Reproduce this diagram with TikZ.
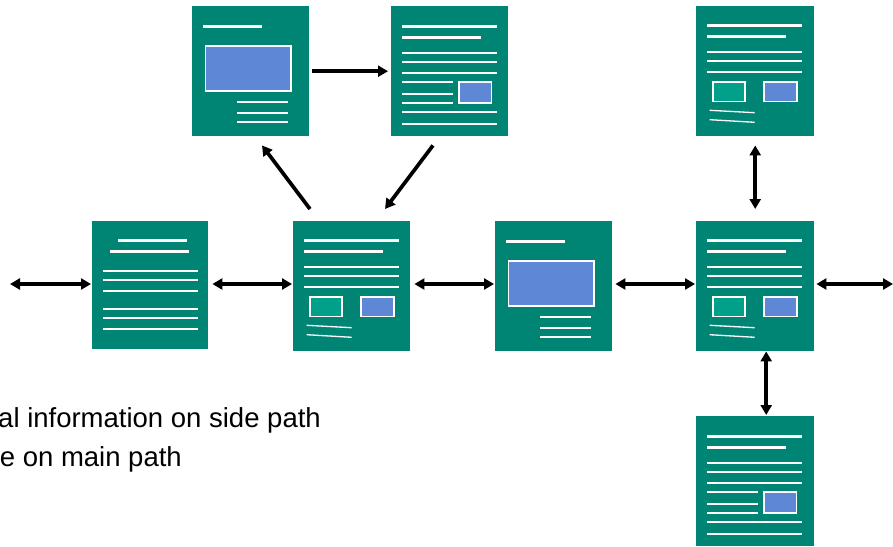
\documentclass[tikz,border=0pt]{standalone}
\usepackage{fontspec}
\setmainfont{Liberation Sans}
\usetikzlibrary{arrows.meta}
\definecolor{pagegreen}{RGB}{0,133,117}
\definecolor{boxteal}{RGB}{0,160,138}
\definecolor{picblue}{RGB}{94,135,214}

\begin{document}
\begin{tikzpicture}[x=1pt,y=-1pt]
            \tikzset{
            pg node/.style={rectangle,fill=pagegreen,anchor=north west,minimum width=117pt,minimum height=130pt,inner sep=0},
            pg head/.style={white,line width=3.3pt},
            pg line/.style={white,line width=2pt},
            pg slant/.style={white,line width=1.3pt},
            pg img/.style={fill=picblue,draw=white,line width=1.5pt},
            pg box/.style={fill=boxteal,draw=white,line width=1.5pt},
            pg edge/.style={line width=3.7pt,-{Triangle[length=10pt,width=11pt]}},
            pg dedge/.style={line width=3.7pt,{Triangle[length=10pt,width=11pt]}-{Triangle[length=10pt,width=11pt]}},
            pics/imgpage/.style={code={
                \draw[pg head] (11,20.5) -- (70,20.5);
                \draw[pg img] (13.5,40) rectangle (99,85);
                \foreach \y in {96,106.5,115.5} \draw[pg line] (45,\y) -- (96,\y);
            }},
            pics/sidepage/.style={code={
                \draw[pg head] (11,20.5) -- (106,20.5);
                \draw[pg head] (11,31.5) -- (90,31.5);
                \foreach \y in {46.5,55.5,66.5,106,117.5} \draw[pg line] (11,\y) -- (106,\y);
                \foreach \y in {76,87.5,96.5} \draw[pg line] (11,\y) -- (62,\y);
                \draw[pg img] (68,76) rectangle (100.5,97);
            }},
            pics/textpage/.style={code={
                \draw[pg head] (26,19.7) -- (95,19.7);
                \draw[pg head] (18,30.7) -- (97,30.7);
                \foreach \y in {49.7,58.7,69.7,87.7,96.7,107.7} \draw[pg line] (11,\y) -- (106,\y);
            }},
            pics/boxpage/.style={code={
                \draw[pg head] (11,19.7) -- (106,19.7);
                \draw[pg head] (11,30.7) -- (90,30.7);
                \foreach \y in {45.7,54.7,65.7} \draw[pg line] (11,\y) -- (106,\y);
                \draw[pg box] (17,76) rectangle (49,95.7);
                \draw[pg img] (68,76) rectangle (101,95.7);
                \draw[pg slant] (13.7,104.3) -- (58.7,106.7);
                \draw[pg slant] (13.7,113.7) -- (58.7,116.3);
            }}
            }
            \useasboundingbox (0,0) rectangle (893,546);

            \node[pg node] (1) at (192,6) {};
            \node[pg node] (2) at (391,6) {};
            \node[pg node,minimum width=118pt] (3) at (696,6) {};
            \node[pg node,minimum width=116pt,minimum height=128pt] (4) at (92,221) {};
            \node[pg node] (5) at (293,221) {};
            \node[pg node] (6) at (495,221) {};
            \node[pg node,minimum width=118pt] (7) at (696,221) {};
            \node[pg node,minimum width=118pt] (8) at (696,416) {};

            \pic at (1.north west) {imgpage};
            \pic at (2.north west) {sidepage};
            \pic at (3.north west) {boxpage};
            \pic at (4.north west) {textpage};
            \pic at (5.north west) {boxpage};
            \pic at (6.north west) {imgpage};
            \pic at (7.north west) {boxpage};
            \pic at (8.north west) {sidepage};

            \coordinate (l) at (10,284);
            \coordinate (r) at (893,284);

            \path[draw]
            (1.east) edge[pg edge,shorten <=3pt,shorten >=3pt] (2.west)
            ([xshift=17pt,yshift=12pt]5.north west) edge[pg edge] ([xshift=70pt,yshift=-9pt]1.south west)
            ([xshift=42pt,yshift=-9pt]2.south west) edge[pg edge] ([xshift=92pt,yshift=12pt]5.north west)
            (l) edge[pg dedge,shorten >=1pt] (4.west |- l)
            (4.east |- l) edge[pg dedge,shorten <=4pt,shorten >=1pt] (5.west |- l)
            (5.east |- l) edge[pg dedge,shorten <=4pt,shorten >=1pt] (6.west |- l)
            (6.east |- l) edge[pg dedge,shorten <=3pt,shorten >=1pt] (7.west |- l)
            (7.east |- l) edge[pg dedge,shorten <=2pt] (r)
            (3.south) edge[pg dedge,shorten <=9pt,shorten >=12pt] (7.north)
            ([xshift=11pt]7.south) edge[pg dedge,shorten >=1pt] ([xshift=11pt]8.north)
            ;

            \node[anchor=base east,inner sep=0,font=\fontsize{27.5}{33}\selectfont] (side) at (321,427.7) {al information on side path};
            \node[anchor=base east,inner sep=0,font=\fontsize{27.5}{33}\selectfont] (main) at (182,466) {e on main path};
        \end{tikzpicture}
\end{document}
